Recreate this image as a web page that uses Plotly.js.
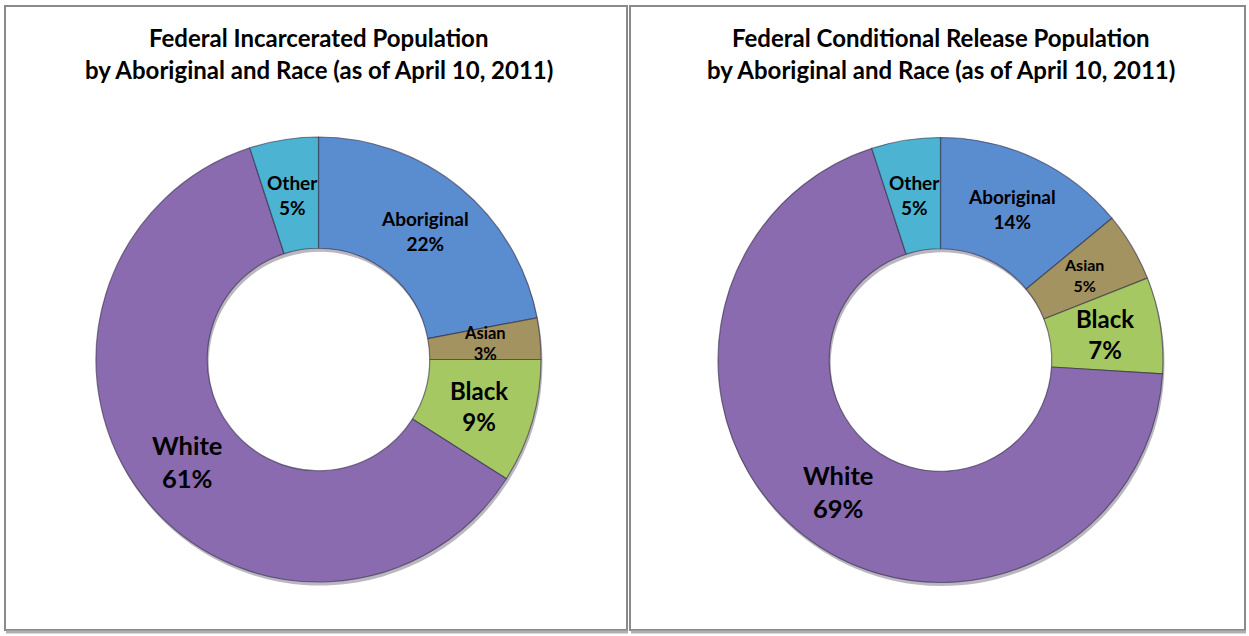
<!DOCTYPE html>
<html>
<head>
<meta charset="utf-8">
<script src="https://cdn.plot.ly/plotly-3.0.1.min.js"></script>
<style>html,body{margin:0;padding:0;background:#fff}#chart{width:1249px;height:636px}</style>
</head>
<body>
<div id="chart"></div>
<script>
const categories = ["Aboriginal", "Asian", "Black", "White", "Other"];
const incarceratedValues = [22, 3, 9, 61, 5];
const releaseValues = [14, 5, 7, 69, 5];
const titleLeft = ["Federal Incarcerated Population", "by Aboriginal and Race (as of April 10, 2011)"];
const titleRight = ["Federal Conditional Release Population", "by Aboriginal and Race (as of April 10, 2011)"];

const colors = ["#5A8CD0", "#A39361", "#A6C862", "#8A6BAF", "#4CB4D2"];
const sizesLeft = [19, 16.5, 24, 25.5, 19];
const sizesRight = [19, 16, 24, 25.5, 19];
const FONT = "Lato, 'Liberation Sans', sans-serif";
const W = 1249, H = 636;
const HOLE = 0.5;

function px(x){return x/W;}
function py(y){return 1 - y/H;}

const charts = [
  {values: incarceratedValues, sizes: sizesLeft, cx: 318.5, cy: 359.5, r: 222.5, title: titleLeft},
  {values: releaseValues, sizes: sizesRight, cx: 940.5, cy: 360, r: 222.5, title: titleRight}
];

function domainOf(c, dx, dy){
  return {x: [px(c.cx-c.r+dx), px(c.cx+c.r+dx)], y: [py(c.cy+c.r+dy), py(c.cy-c.r+dy)]};
}

const data = [];
// soft shadow rings behind each donut
charts.forEach(c => {
  data.push({
    type: "pie", values: c.values, labels: categories, sort: false, direction: "clockwise", rotation: 0,
    hole: HOLE, textinfo: "none", hoverinfo: "skip", showlegend: false,
    marker: {colors: categories.map(()=> "rgba(40,30,60,0.32)"), line: {width: 0}},
    domain: domainOf(c, 1.5, 3.5)
  });
});
charts.forEach(c => {
  data.push({
    type: "pie", values: c.values, labels: categories, sort: false, direction: "clockwise", rotation: 0,
    hole: HOLE, textinfo: "none", hoverinfo: "label+percent", showlegend: false,
    marker: {colors: colors, line: {color: "rgba(50,45,70,0.6)", width: 1.2}},
    domain: domainOf(c, 0, 0)
  });
});

// slice labels placed at the middle of each ring segment, derived from the values
const annotations = [];
charts.forEach(c => {
  const total = c.values.reduce((a,b)=>a+b, 0);
  const rMid = c.r * (1 + HOLE) / 2;
  let cum = 0;
  c.values.forEach((v, i) => {
    const mid = (cum + v/2) / total * 2 * Math.PI;
    cum += v;
    const x = c.cx + rMid * Math.sin(mid);
    const y = c.cy - rMid * Math.cos(mid);
    annotations.push({
      text: categories[i] + "<br>" + v + "%", xref: "paper", yref: "paper",
      x: px(x), y: py(y), xanchor: "center", yanchor: "middle", showarrow: false,
      font: {family: FONT, size: c.sizes[i], color: "#000", weight: "bold"}
    });
  });
  annotations.push({text: c.title[0], xref:"paper", yref:"paper", x:px(c.cx), y:py(37), xanchor:"center", yanchor:"middle",
    showarrow:false, font:{family:FONT, size:24, color:"#000", weight:"bold"}});
  annotations.push({text: c.title[1], xref:"paper", yref:"paper", x:px(c.cx), y:py(70), xanchor:"center", yanchor:"middle",
    showarrow:false, font:{family:FONT, size:24, color:"#000", weight:"bold"}});
});

const panelLine = {color: "#8a8a8a", width: 2};
const layout = {
  width: W, height: H,
  margin: {l:0, r:0, t:0, b:0},
  paper_bgcolor: "#ffffff",
  showlegend: false,
  shapes: [
    {type:"rect", xref:"paper", yref:"paper", x0:px(5), x1:px(627), y0:py(630), y1:py(6), line: panelLine, fillcolor:"rgba(0,0,0,0)", layer:"below"},
    {type:"rect", xref:"paper", yref:"paper", x0:px(630), x1:px(1245), y0:py(630), y1:py(6), line: panelLine, fillcolor:"rgba(0,0,0,0)", layer:"below"},
    {type:"line", xref:"paper", yref:"paper", x0:px(6), x1:px(628), y0:py(632), y1:py(632), line:{color:"#b0b0b0", width:3}},
    {type:"line", xref:"paper", yref:"paper", x0:px(631), x1:px(1246), y0:py(632), y1:py(632), line:{color:"#b0b0b0", width:3}}
  ],
  annotations: annotations
};

Plotly.newPlot("chart", data, layout, {displayModeBar:false, staticPlot:true});
</script>
</body>
</html>
